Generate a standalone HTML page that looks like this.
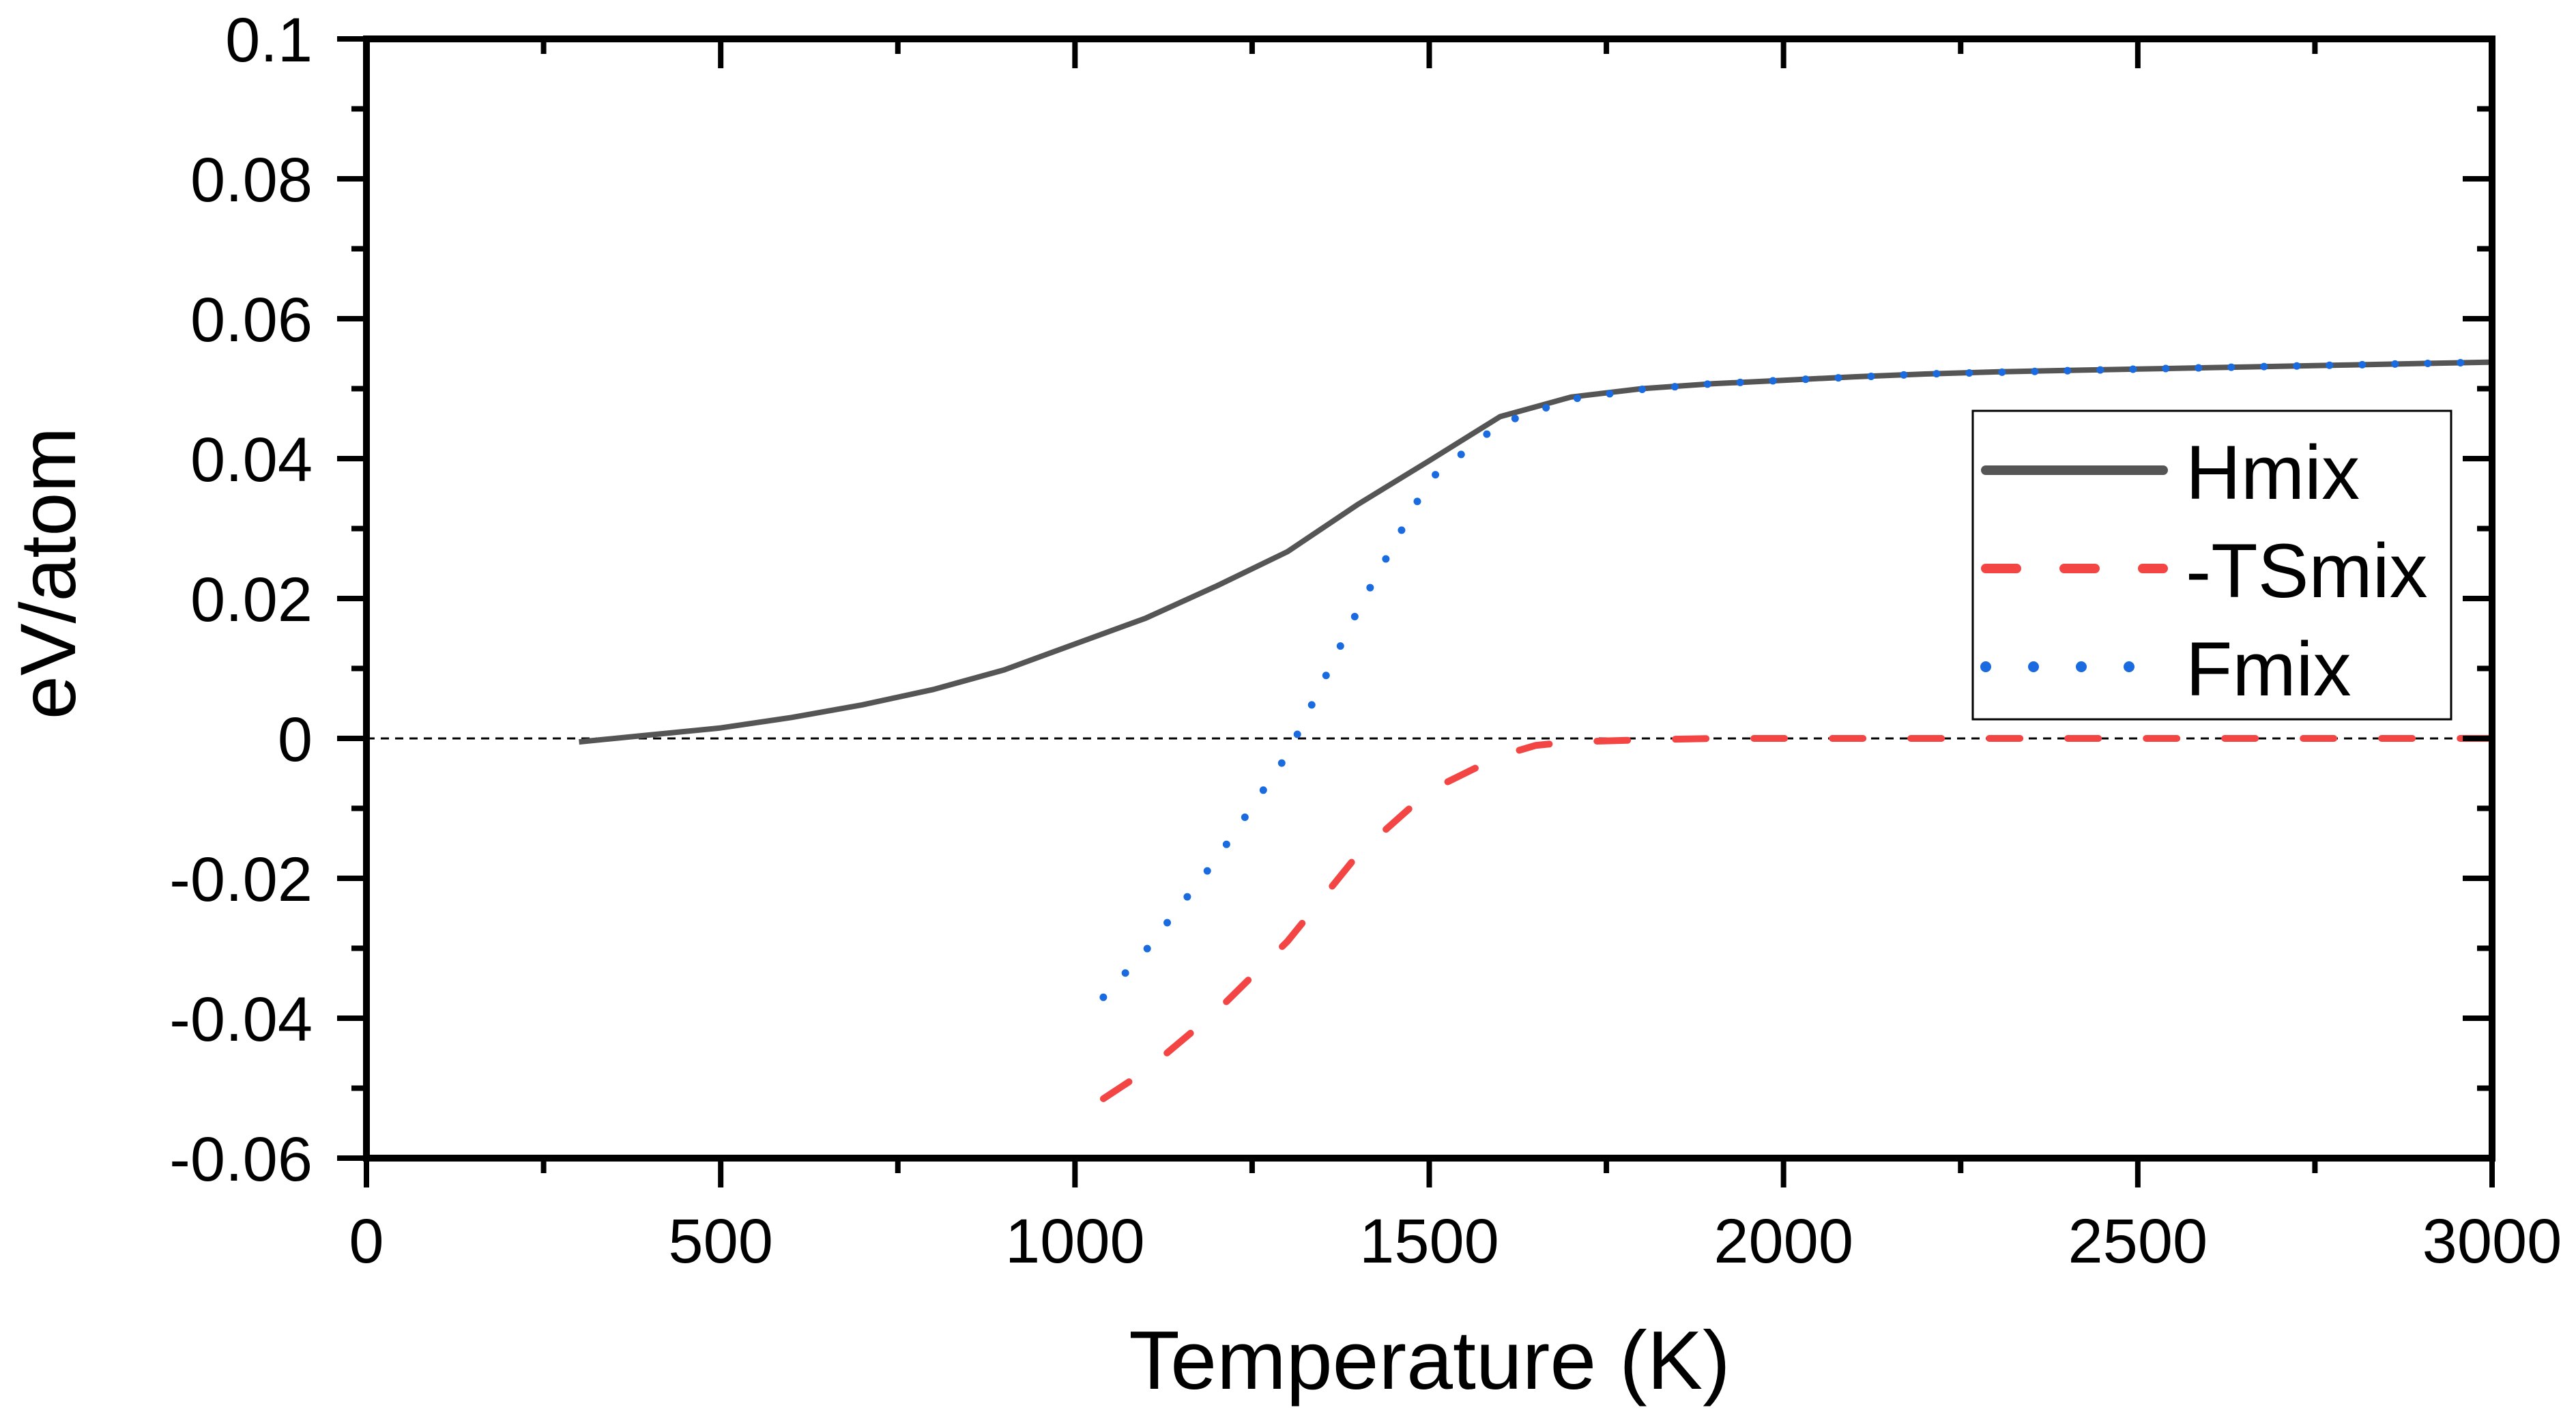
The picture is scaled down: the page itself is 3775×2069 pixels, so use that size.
<!DOCTYPE html>
<html><head><meta charset="utf-8"><style>
html,body{margin:0;padding:0;background:#fff;}
svg{display:block;font-family:"Liberation Sans",Arial,sans-serif;}
</style></head><body>
<svg id="chart" width="3775" height="2069" viewBox="0 0 3775 2069" xmlns="http://www.w3.org/2000/svg">
<rect width="3775" height="2069" fill="#fff"/>
<g id="g"></g>
</svg>
<script>
const hT = [300,400,500,600,700,800,900,1000,1100,1200,1300,1400,1500,1600,1700,1800,1900,2000,2100,2200,2300,2400,2500,2600,2700,2800,2900,3000];
const hVals = [-0.0005,0.0005,0.0015,0.003,0.0048,0.007,0.0098,0.0135,0.0172,0.0218,0.0267,0.0335,0.0397,0.046,0.0488,0.05,0.0507,0.0512,0.0517,0.0521,0.0524,0.0526,0.0528,0.053,0.0532,0.0534,0.0536,0.0538];
const sT = [1040,1100,1200,1300,1400,1500,1600,1650,1700,1800,1900,2000,2500,3000];
const sVals = [-0.0515,-0.0475,-0.039,-0.029,-0.0165,-0.0075,-0.0025,-0.001,-0.0005,-0.0002,0,0,0,0];
const fT = [1040,1100,1200,1300,1400,1500,1600,1700,1800,1900,2000,2200,2500,3000];
const fVals = [-0.037,-0.0303,-0.0172,-0.0023,0.0185,0.037,0.045,0.0485,0.0499,0.0507,0.0512,0.0521,0.0528,0.0538];
const xTicks = [0,500,1000,1500,2000,2500,3000];
const yTicks = [-0.06,-0.04,-0.02,0,0.02,0.04,0.06,0.08,0.1];
const yLabels = ["-0.06","-0.04","-0.02","0","0.02","0.04","0.06","0.08","0.1"];

const L=537,R=3652,T=57,B=1697;
const X=v=>L+(v-0)/3000*(R-L);
const Y=v=>B-(v+0.06)/0.16*(B-T);
const NS="http://www.w3.org/2000/svg";
const g=document.getElementById('g');
function mk(tag,attrs,parent){const e=document.createElementNS(NS,tag);for(const k in attrs)e.setAttribute(k,attrs[k]);(parent||g).appendChild(e);return e;}

let zl=mk('line',{x1:L,x2:R,y1:Y(0),y2:Y(0),stroke:'#000','stroke-width':3,'stroke-dasharray':'12 9'});



function series(xs,ys,attrs,name){
  const d=xs.map((x,i)=>(i?'L':'M')+X(x).toFixed(1)+' '+Y(ys[i]).toFixed(1)).join(' ');
  const p=mk('path',Object.assign({d:d,fill:'none'},attrs));
  
  
}
series(hT,hVals,{stroke:'#555','stroke-width':8,'stroke-linejoin':'round'},'hmix-line');
series(sT,sVals,{stroke:'#f44545','stroke-width':10,'stroke-dasharray':'45 70','stroke-linecap':'round'},'tsmix-line');
series(fT,fVals,{stroke:'#1a6ae0','stroke-width':11,'stroke-dasharray':'0 48','stroke-linecap':'round'},'fmix-line');

let fr=mk('rect',{x:L,y:T,width:R-L,height:B-T,fill:'none',stroke:'#000','stroke-width':10});



for(let v=0;v<=3000;v+=250){
  const major=v%500===0, x=X(v);
  mk('line',{x1:x,x2:x,y1:B,y2:B+(major?43:22),stroke:'#000','stroke-width':8});
  mk('line',{x1:x,x2:x,y1:T,y2:T+(major?43:22),stroke:'#000','stroke-width':8});
}
xTicks.forEach(v=>{
  const t=mk('text',{x:X(v),y:1850,'font-size':92,'text-anchor':'middle'});
  t.textContent=v;
  
  
});
for(let i=0;i<=16;i++){
  const v=-0.06+i*0.01, major=i%2===0, y=Y(v);
  mk('line',{x1:L,x2:L-(major?43:22),y1:y,y2:y,stroke:'#000','stroke-width':8});
  mk('line',{x1:R,x2:R-(major?43:22),y1:y,y2:y,stroke:'#000','stroke-width':8});
}
yTicks.forEach((v,i)=>{
  const t=mk('text',{x:458,y:Y(v)+33,'font-size':92,'text-anchor':'end'});
  t.textContent=yLabels[i];
  
  
});
let xt=mk('text',{x:2095,y:2035,'font-size':122,'text-anchor':'middle'});
xt.textContent='Temperature (K)';


let yt=mk('text',{x:0,y:0,'font-size':115,'text-anchor':'middle',transform:'translate(110,840) rotate(-90)'});
yt.textContent='eV/atom';



const lg=mk('g',{});


mk('rect',{x:2891,y:602,width:701,height:452,fill:'#fff',stroke:'#000','stroke-width':3},lg);
const leg=[['Hmix',{stroke:'#555','stroke-width':14,'stroke-linecap':'round'}],
 ['-TSmix',{stroke:'#f44545','stroke-width':14,'stroke-dasharray':'45 70','stroke-linecap':'round'}],
 ['Fmix',{stroke:'#1a6ae0','stroke-width':16,'stroke-dasharray':'0 70','stroke-linecap':'round'}]];
leg.forEach((e,i)=>{
  const y=689+i*144;
  const ln=mk('line',Object.assign({x1:2910,x2:3170,y1:y,y2:y},e[1]),lg);
  
  
  const t=mk('text',{x:3203,y:y+42,'font-size':112},lg);
  t.textContent=e[0];
  
  
});
</script>
</body></html>
